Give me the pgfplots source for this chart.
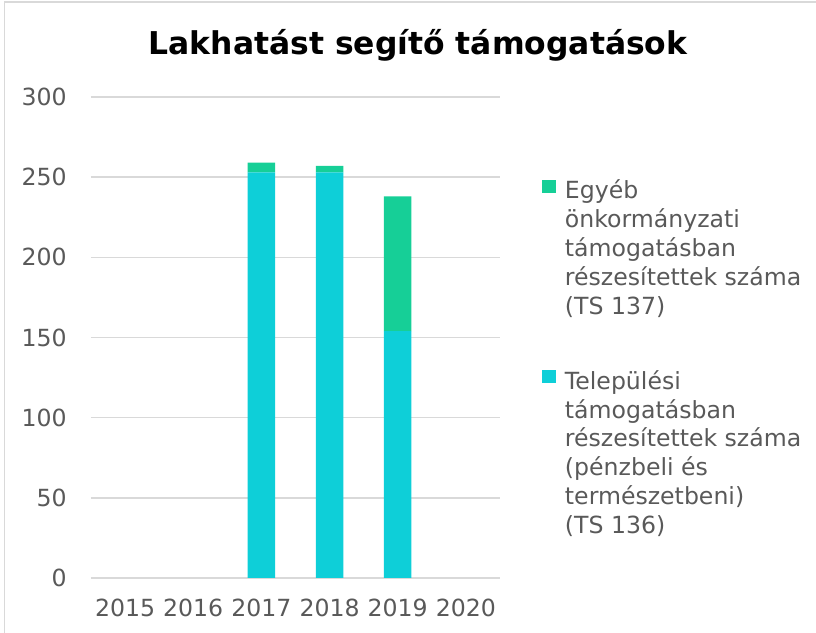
\documentclass[border=0pt]{standalone}
\usepackage{fontspec}
\setmainfont{DejaVu Sans}
\usepackage{pgfplots}
\pgfplotsset{compat=1.18}
\definecolor{cyanbar}{HTML}{0ECFD8}
\definecolor{greenbar}{HTML}{16CF97}
\definecolor{txt}{HTML}{595959}
\definecolor{gridc}{HTML}{D9D9D9}
\begin{document}
\begin{tikzpicture}
\useasboundingbox (0,0) rectangle (408bp,316.5bp);
\draw[gridc, line width=0.75bp] (2.25bp,-2bp) -- (2.25bp,315.5bp) -- (410bp,315.5bp);
\node[anchor=base, inner sep=0, font=\fontsize{15.7bp}{18bp}\selectfont\bfseries] at (209bp,289bp) {Lakhatást segítő támogatások};
\begin{axis}[
  at={(45.5bp,27.5bp)}, anchor=south west,
  width=204.5bp, height=240.5bp, scale only axis,
  xmin=-0.5, xmax=5.5, ymin=0, ymax=300,
  ytick={0,50,...,300},
  xtick={0,...,5}, xticklabels={2015,2016,2017,2018,2019,2020},
  ybar stacked, bar width=13.75bp,
  ymajorgrids, major grid style={gridc, line width=0.75bp},
  axis line style={draw=none}, major tick length=0,
  tick label style={font=\fontsize{11.8bp}{14bp}\selectfont, text=txt},
  /pgf/number format/assume math mode=true,
  yticklabel style={anchor=east, inner sep=0, xshift=-12bp},
  xticklabel style={anchor=north, inner sep=0, yshift=-10.5bp},
  legend style={at={(1.1027,0.8358)}, anchor=north west, draw=none, fill=none,
    inner sep=0, outer sep=0, row sep=22.7bp, column sep=2.5bp,
    font=\fontsize{11.8bp}{14.4bp}\selectfont, text=txt,
    cells={anchor=north west, align=left, inner sep=0}},
  reverse legend,
]
\addplot[fill=cyanbar, draw=none,
  legend image code/.code={\fill[cyanbar] (0,-2bp) rectangle (7bp,-8.5bp);}]
  coordinates {(2,253) (3,253) (4,154)};
\addplot[fill=greenbar, draw=none,
  legend image code/.code={\fill[greenbar] (0,-2bp) rectangle (7bp,-8.5bp);}]
  coordinates {(2,6) (3,4) (4,84)};
\legend{{Települési\\támogatásban\\részesítettek száma\\(pénzbeli és\\természetbeni)\\(TS 136)},
        {Egyéb\\önkormányzati\\támogatásban\\részesítettek száma\\(TS 137)}}
\end{axis}
\end{tikzpicture}
\end{document}
